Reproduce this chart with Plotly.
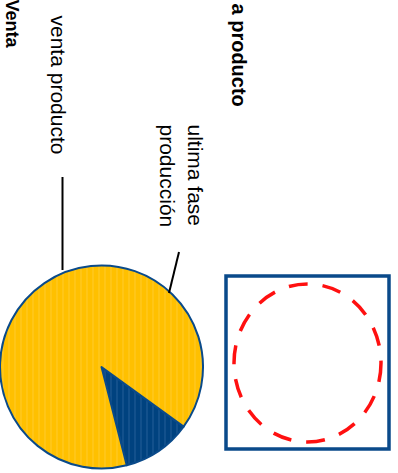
import plotly.graph_objects as go

# Pie data
slice_labels = ["ultima fase producción", "venta producto"]
slice_values = [11, 89]
slice_colors = ["#00427f", "#ffc000"]
stripe_colors = ["#4f7fb5", "#ffd866"]

# Text labels
title_left = "Venta"
title_right = "a producto"

W, H = 398, 473


def px(x):
    return x / W


def py(y):
    return 1 - y / H


fig = go.Figure()

fig.add_trace(go.Pie(
    labels=slice_labels,
    values=slice_values,
    sort=False,
    direction="clockwise",
    rotation=126,
    textinfo="none",
    hoverinfo="label+percent",
    marker=dict(
        colors=slice_colors,
        line=dict(color="#0a4a8a", width=2),
        pattern=dict(shape="|", fillmode="overlay", fgcolor=stripe_colors,
                     fgopacity=0.5, size=6, solidity=0.15),
    ),
    domain=dict(x=[0, px(203)], y=[py(469), py(265)]),
    showlegend=False,
))

shapes = [
    # leader lines
    dict(type="line", xref="paper", yref="paper",
         x0=px(62.5), y0=py(177), x1=px(62.5), y1=py(270),
         line=dict(color="black", width=2)),
    dict(type="line", xref="paper", yref="paper",
         x0=px(179), y0=py(252), x1=px(169), y1=py(293),
         line=dict(color="black", width=2)),
    # framed dashed circle
    dict(type="rect", xref="paper", yref="paper",
         x0=px(226), y0=py(449), x1=px(389), y1=py(276),
         line=dict(color="#0a4a8a", width=3.5)),
    dict(type="circle", xref="paper", yref="paper",
         x0=px(234), y0=py(442), x1=px(381), y1=py(284),
         line=dict(color="#ff1010", width=3.5, dash="19px,15px")),
]

font = "Arial, Liberation Sans, sans-serif"
annotations = [
    dict(text="<b>%s</b>" % title_left, x=px(11), y=py(50),
         xref="paper", yref="paper", xanchor="center", yanchor="bottom",
         textangle=90, showarrow=False,
         font=dict(family=font, size=18, color="black")),
    dict(text="<b>%s</b>" % title_right, x=px(239), y=py(1),
         xref="paper", yref="paper", xanchor="center", yanchor="top",
         textangle=90, showarrow=False,
         font=dict(family=font, size=20, color="black")),
    dict(text="venta producto", x=px(58), y=py(13),
         xref="paper", yref="paper", xanchor="center", yanchor="top",
         textangle=90, showarrow=False,
         font=dict(family=font, size=21, color="black")),
    dict(text="ultima fase<br>producción", x=px(182), y=py(122),
         xref="paper", yref="paper", xanchor="center", yanchor="top",
         textangle=90, showarrow=False, align="left",
         font=dict(family=font, size=21, color="black")),
]

fig.update_layout(
    width=W, height=H,
    margin=dict(l=0, r=0, t=0, b=0),
    paper_bgcolor="white",
    plot_bgcolor="white",
    shapes=shapes,
    annotations=annotations,
)

fig.write_html("out.html")
